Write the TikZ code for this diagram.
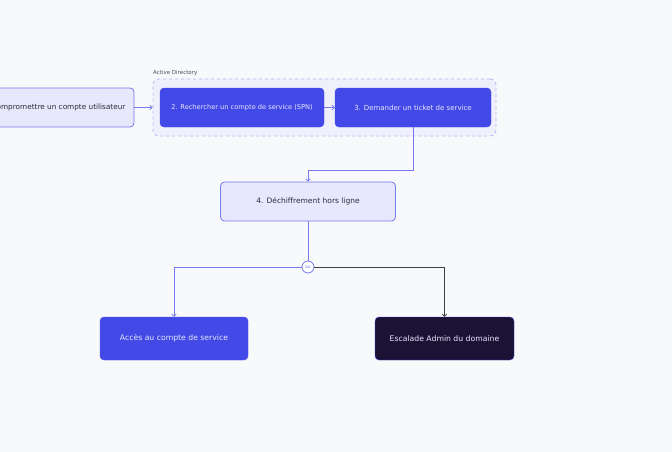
\documentclass[tikz,border=0pt]{standalone}
\usepackage{fontspec}
\setmainfont{DejaVu Sans}
\usetikzlibrary{arrows.meta,positioning,backgrounds,calc}
\definecolor{kbPaper}{HTML}{F8F9FB}
\definecolor{kbLavender}{HTML}{E8E8FC}
\definecolor{kbEdge}{HTML}{7679F0}
\definecolor{kbBlue}{HTML}{4349E6}
\definecolor{kbNight}{HTML}{1C1236}
\definecolor{kbGroup}{HTML}{F0F0FC}
\definecolor{kbDash}{HTML}{B4B6F5}
\definecolor{kbInk}{HTML}{2A2A3A}
\definecolor{kbGray}{HTML}{4A4A55}

\begin{document}
\begin{tikzpicture}[x=1pt,y=-1pt,
    stepbox/.style={draw=kbEdge,fill=kbLavender,rounded corners=4pt,line width=0.8pt,
      text=kbInk,font=\fontsize{7.5}{9}\selectfont,minimum height=39pt,inner sep=0pt},
    adbox/.style={draw=kbBlue,fill=kbBlue,rounded corners=4pt,text=kbLavender,
      font=\fontsize{6.8}{8}\selectfont,minimum height=39pt,inner sep=0pt},
    flow/.style={draw=kbEdge,line width=0.8pt,-{To[length=3pt,width=5pt]}}]
  \useasboundingbox[fill=kbPaper] (0,0) rectangle (672,452);
  % Active Directory group
  \node[draw=kbDash,fill=kbGroup,dashed,line width=0.8pt,rounded corners=6pt,
    minimum width=343pt,minimum height=57pt] (ad) at (324.5,107.5) {};
  \node[anchor=south west,inner sep=0pt,text=kbGray,font=\fontsize{5.5}{6}\selectfont]
    (adlabel) at (153,76) {Active Directory};
  % steps
  \node[stepbox,minimum width=161pt,font=\fontsize{7.3}{9}\selectfont] (compromise) at (53.5,107.5) {1. Compromettre un compte utilisateur};
  \node[adbox,minimum width=164pt,font=\fontsize{6.65}{8}\selectfont] (spn) at (242,107.5) {2. Rechercher un compte de service (SPN)};
  \node[adbox,minimum width=156pt,font=\fontsize{7}{8}\selectfont] (ticket) at (413,107.5) {3. Demander un ticket de service};
  \node[stepbox,minimum width=175pt] (crack) at (308,201.5) {4. Déchiffrement hors ligne};
  \node[circle,draw=kbEdge,fill=white,line width=0.8pt,minimum size=12pt,inner sep=0pt,
    text=kbEdge,font=\fontsize{4.5}{5}\selectfont] (or) at (308,267) {ou};
  \node[adbox,minimum width=148pt,minimum height=43pt,font=\fontsize{7.7}{9}\selectfont]
    (access) at (174,338.5) {Accès au compte de service};
  \node[adbox,draw=kbBlue,fill=kbNight,minimum width=139pt,minimum height=43pt,
    font=\fontsize{7.7}{9}\selectfont] (domadmin) at (444.5,338.5) {Escalade Admin du domaine};
  % connectors
  \draw[flow] (compromise) -- (ad);
  \draw[flow] (spn) -- (ticket);
  \draw[flow] (ticket.south) -- ++(0,43) -| (crack.north);
  \draw[kbEdge,line width=0.8pt] (crack.south) -- (or.north);
  \draw[flow] (or.west) -| (access.north);
  \draw[flow,draw=kbGray!85!black] (or.east) -| (domadmin.north);
\end{tikzpicture}
\end{document}
